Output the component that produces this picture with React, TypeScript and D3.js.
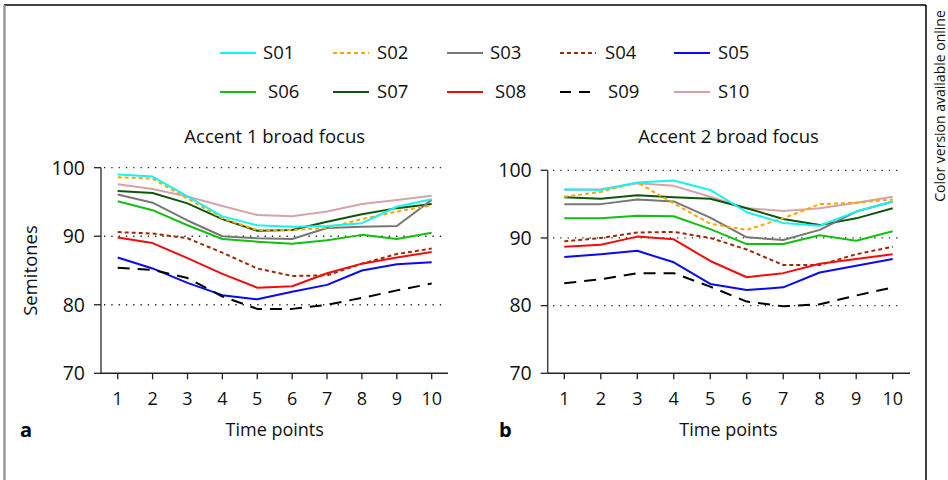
import React from "react";
import * as d3 from "d3";

const timePoints = [1, 2, 3, 4, 5, 6, 7, 8, 9, 10];
const yTicks = [70, 80, 90, 100];
const gridValues = [80, 90, 100];

const speakers = ["S01", "S02", "S03", "S04", "S05", "S06", "S07", "S08", "S09", "S10"];

// Accent 1 broad focus (semitones)
const accent1S01 = [99.0, 98.7, 95.8, 92.9, 91.6, 91.4, 91.5, 91.9, 94.3, 95.4];
const accent1S02 = [98.6, 98.4, 95.5, 92.6, 90.9, 90.9, 91.2, 92.5, 93.6, 94.5];
const accent1S03 = [96.1, 94.9, 92.3, 90.0, 89.7, 89.6, 91.2, 91.4, 91.5, 95.3];
const accent1S04 = [90.6, 90.4, 89.7, 87.6, 85.3, 84.2, 84.3, 86.0, 87.4, 88.2];
const accent1S05 = [86.9, 85.3, 83.2, 81.4, 80.8, 81.9, 82.9, 85.0, 85.9, 86.2];
const accent1S06 = [95.1, 93.8, 91.6, 89.6, 89.2, 88.9, 89.4, 90.2, 89.6, 90.5];
const accent1S07 = [96.6, 96.3, 94.8, 92.5, 90.8, 90.9, 92.1, 93.2, 94.1, 94.7];
const accent1S08 = [89.8, 89.0, 86.8, 84.5, 82.5, 82.7, 84.6, 86.0, 86.9, 87.7];
const accent1S09 = [85.4, 85.1, 83.9, 81.2, 79.4, 79.4, 80.0, 81.0, 82.1, 83.1];
const accent1S10 = [97.6, 96.9, 95.8, 94.4, 93.1, 92.9, 93.6, 94.7, 95.3, 95.9];

// Accent 2 broad focus (semitones)
const accent2S01 = [97.2, 97.1, 98.2, 98.5, 97.1, 93.8, 92.2, 91.8, 93.9, 95.4];
const accent2S02 = [96.1, 96.8, 98.2, 95.1, 92.1, 91.2, 92.9, 95.0, 95.2, 95.7];
const accent2S03 = [95.0, 95.0, 95.7, 95.4, 93.0, 90.1, 89.7, 91.2, 93.9, 95.4];
const accent2S04 = [89.5, 90.0, 90.8, 90.9, 90.0, 88.3, 86.0, 86.0, 87.6, 88.7];
const accent2S05 = [87.2, 87.6, 88.1, 86.4, 83.2, 82.3, 82.7, 84.9, 85.9, 86.9];
const accent2S06 = [92.9, 92.9, 93.3, 93.2, 91.3, 89.1, 89.1, 90.4, 89.6, 91.0];
const accent2S07 = [96.0, 95.8, 96.3, 96.0, 95.8, 94.4, 92.8, 91.9, 92.9, 94.4];
const accent2S08 = [88.7, 89.0, 90.2, 89.8, 86.6, 84.2, 84.8, 86.2, 86.9, 87.6];
const accent2S09 = [83.3, 83.9, 84.8, 84.8, 82.8, 80.6, 79.9, 80.2, 81.5, 82.7];
const accent2S10 = [97.1, 97.2, 98.1, 97.7, 96.1, 94.4, 94.0, 94.4, 95.2, 96.1];

const accent1 = [accent1S01, accent1S02, accent1S03, accent1S04, accent1S05, accent1S06, accent1S07, accent1S08, accent1S09, accent1S10];
const accent2 = [accent2S01, accent2S02, accent2S03, accent2S04, accent2S05, accent2S06, accent2S07, accent2S08, accent2S09, accent2S10];

type LineStyle = { color: string; dash: string | null };

const styles: LineStyle[] = [
  { color: "#19F2F2", dash: null },
  { color: "#FFA500", dash: "4 3" },
  { color: "#777777", dash: null },
  { color: "#9A2B0A", dash: "4 3" },
  { color: "#0A0AF0", dash: null },
  { color: "#12C012", dash: null },
  { color: "#0E560E", dash: null },
  { color: "#F20D0D", dash: null },
  { color: "#000000", dash: "12 8" },
  { color: "#D6A4A8", dash: null },
];

// draw order: lighter lines underneath
const drawOrder = [9, 6, 2, 5, 3, 7, 4, 8, 1, 0];

const FONT = "'Open Sans', 'DejaVu Sans', sans-serif";

type PanelProps = {
  data: number[][];
  x0: number;
  x1: number;
  axisX: number;
  axisEnd: number;
  yTop: number;
  yBottom: number;
  gridStart: number;
  gridEnd: number;
  title: string;
  letter: string;
  letterX: number;
  showYLabel: boolean;
};

function Panel(p: PanelProps) {
  const x = d3.scaleLinear().domain([1, 10]).range([p.x0, p.x1]);
  const y = d3.scaleLinear().domain([70, 100]).range([p.yBottom, p.yTop]);
  const line = d3
    .line<number>()
    .x((_, i) => x(timePoints[i]))
    .y((v) => y(v));
  const cx = (p.x0 + p.x1) / 2;
  return (
    <g>
      <text x={cx} y={143} textAnchor="middle" fontSize={18.5} fontFamily={FONT} fill="#111">
        {p.title}
      </text>
      {gridValues.map((g) => (
        <line
          key={g}
          x1={p.gridStart}
          x2={p.gridEnd}
          y1={y(g)}
          y2={y(g)}
          stroke="#222"
          strokeWidth={1.3}
          strokeDasharray="1.3 6"
        />
      ))}
      <line x1={p.axisX} x2={p.axisX} y1={y(100)} y2={y(70)} stroke="#444" strokeWidth={1.5} />
      <line x1={p.axisX} x2={p.axisEnd} y1={y(70)} y2={y(70)} stroke="#222" strokeWidth={1.5} />
      {yTicks.map((t) => (
        <g key={t}>
          <line x1={p.axisX - 7} x2={p.axisX} y1={y(t)} y2={y(t)} stroke="#222" strokeWidth={1.3} />
          <text
            x={p.axisX - 16}
            y={y(t)}
            dy="0.35em"
            textAnchor="end"
            fontSize={19.5}
            fontFamily={FONT}
            fill="#111"
          >
            {t}
          </text>
        </g>
      ))}
      {timePoints.map((t) => (
        <g key={t}>
          <line x1={x(t)} x2={x(t)} y1={y(70)} y2={y(70) + 6} stroke="#222" strokeWidth={1.3} />
          <text x={x(t)} y={y(70) + 25} dy="0.35em" textAnchor="middle" fontSize={18} fontFamily={FONT} fill="#111">
            {t}
          </text>
        </g>
      ))}
      <text x={cx} y={430} dy="0.35em" textAnchor="middle" fontSize={18} fontFamily={FONT} fill="#111">
        Time points
      </text>
      <text x={p.letterX} y={430} dy="0.35em" fontSize={20} fontWeight="bold" fontFamily={FONT} fill="#000">
        {p.letter}
      </text>
      {p.showYLabel && (
        <text
          transform={`translate(31,${(y(100) + y(70)) / 2}) rotate(-90)`}
          dy="0.35em"
          textAnchor="middle"
          fontSize={18.5}
          fontFamily={FONT}
          fill="#111"
        >
          Semitones
        </text>
      )}
      {drawOrder.map((i) => (
        <path
          key={i}
          d={line(p.data[i]) || ""}
          fill="none"
          stroke={styles[i].color}
          strokeWidth={2}
          strokeDasharray={styles[i].dash || undefined}
          strokeLinejoin="round"
        />
      ))}
    </g>
  );
}

const legendCols = [220, 333, 447, 560, 674];
const legendTextX = [
  [263, 377, 490, 605, 718],
  [268, 377, 495, 608, 718],
];
const legendRows = [53, 92];

export default function App() {
  return (
    <svg
      width={948}
      height={480}
      style={{ position: "absolute", left: 0, top: 0, background: "#fff" }}
    >
      <rect x={0} y={0} width={948} height={480} fill="#fff" />
      {/* frame */}
      <line x1={4} x2={926} y1={5} y2={5} stroke="#000" strokeWidth={1.5} />
      <line x1={4.5} x2={4.5} y1={5} y2={480} stroke="#999" strokeWidth={2.5} />
      <line x1={926} x2={926} y1={5} y2={480} stroke="#000" strokeWidth={1.5} />
      <text
        transform="translate(940,106) rotate(-90)"
        dy="0.35em"
        textAnchor="middle"
        fontSize={14}
        fontFamily={FONT}
        fill="#111"
      >
        Color version available online
      </text>

      {/* legend */}
      {speakers.map((s, i) => {
        const row = Math.floor(i / 5);
        const col = i % 5;
        const yy = legendRows[row];
        return (
          <g key={s}>
            <line
              x1={legendCols[col]}
              x2={legendCols[col] + 36}
              y1={yy}
              y2={yy}
              stroke={styles[i].color}
              strokeWidth={2}
              strokeDasharray={styles[i].dash === "12 8" ? "11 8" : styles[i].dash || undefined}
            />
            <text
              x={legendTextX[row][col]}
              y={yy}
              dy="0.35em"
              fontSize={18.5}
              fontFamily={FONT}
              fill="#111"
            >
              {s}
            </text>
          </g>
        );
      })}

      <Panel
        data={accent1}
        x0={117.7}
        x1={431.7}
        axisX={101}
        axisEnd={448}
        yTop={167.7}
        yBottom={373.3}
        gridStart={104}
        gridEnd={447}
        title="Accent 1 broad focus"
        letter="a"
        letterX={20}
        showYLabel={true}
      />
      <Panel
        data={accent2}
        x0={564.3}
        x1={892.7}
        axisX={547.7}
        axisEnd={910}
        yTop={170.3}
        yBottom={373.3}
        gridStart={553}
        gridEnd={900}
        title="Accent 2 broad focus"
        letter="b"
        letterX={499}
        showYLabel={false}
      />
    </svg>
  );
}
